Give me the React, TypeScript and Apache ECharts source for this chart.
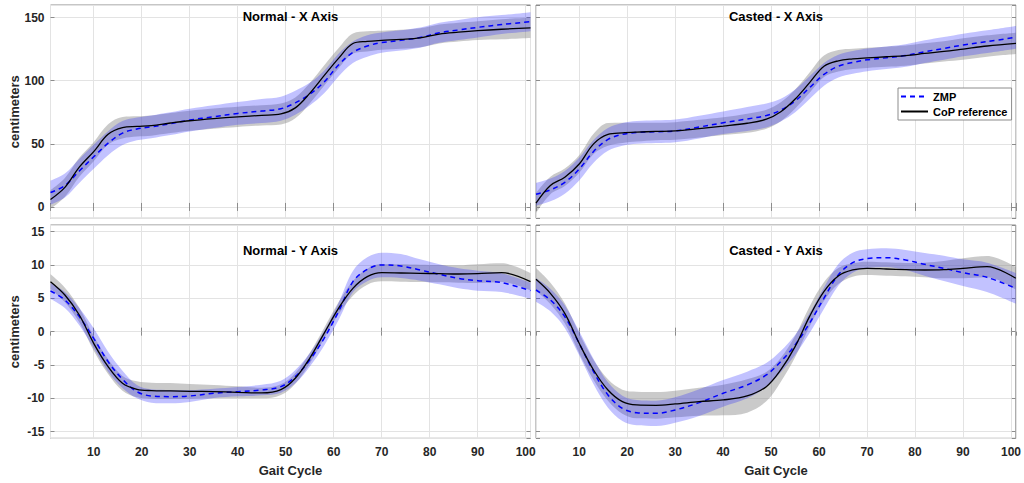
import React, { useEffect, useRef } from "react";
import * as echarts from "echarts";

// Gait cycle sample positions (%)
const X = [1, 4, 7, 10, 13, 16, 19, 22, 26, 30, 35, 40, 45, 49, 52, 55, 58, 61, 64, 67, 70, 74, 78, 82, 86, 90, 95, 101];

// Normal - X Axis
const NX_COP = [5.9, 15.5, 31.5, 43.8, 57.5, 62.8, 63.8, 64.5, 66.5, 68.3, 70, 71.4, 72.6, 73.7, 78.5, 90, 104, 117.7, 129.5, 131.2, 132, 132.8, 134, 137, 138.5, 139.7, 140.8, 141.8];
const NX_COP_SD = [7.5, 7.5, 7.5, 7.5, 8, 8.5, 8, 8, 8, 8, 8, 8, 8, 8.3, 8.3, 8, 8, 8, 8, 8, 7.5, 7.5, 7.5, 7.5, 7.5, 7.5, 8, 8];
const NX_ZMP = [11.4, 17, 28.5, 39.7, 50.5, 58.5, 61.8, 63.5, 66, 68.8, 71.5, 74.1, 76, 77.8, 82.5, 89.3, 99, 112.4, 122.5, 127.5, 130.2, 132, 134.2, 138, 140.2, 142.3, 144.5, 146.8];
const NX_ZMP_SD = [9.5, 9.5, 9.5, 9.5, 9.5, 9.5, 9, 9, 9, 9, 9, 9, 9.5, 9.5, 9.5, 9, 9, 9, 8.5, 8.5, 8, 8, 8, 8, 8, 8, 7.5, 7.5];

// Casted - X Axis
const CX_COP = [3, 17, 23.5, 34, 50, 57.5, 58.7, 59.3, 59.8, 60.2, 62, 64, 66.3, 69.5, 75.4, 85.5, 98.5, 111.5, 115.8, 117.3, 118.1, 119, 119.9, 121.6, 123.2, 125.1, 127.5, 129.6];
const CX_COP_SD = [8, 7, 7, 7, 8, 9, 8, 7.5, 7, 7, 7, 7, 7.5, 7.5, 7.5, 7.5, 8, 8.5, 8.5, 8, 8, 8, 8, 8, 8, 8.5, 8.5, 8.5];
const CX_ZMP = [10, 13.5, 19.5, 30, 44, 53.5, 57.5, 59, 59.6, 60.2, 63.3, 66.7, 69.7, 72.5, 76.7, 84, 94.5, 105, 111.5, 114.5, 116.6, 118.2, 120, 123, 125.6, 128.3, 131, 134.4];
const CX_ZMP_SD = [9, 9, 9, 9, 9, 9, 9, 9, 9, 9, 9, 9, 9.5, 9.5, 9, 9, 9, 9, 9, 9, 9, 9, 9, 9, 9, 9, 9, 9];

// Normal - Y Axis
const NY_COP = [7.5, 5.5, 2.5, -1.75, -5.25, -7.75, -8.65, -8.85, -8.9, -8.95, -9, -9.1, -9.2, -8.7, -7, -4, -0.25, 3.5, 6.5, 8.25, 8.85, 8.8, 8.75, 8.7, 8.65, 8.7, 8.85, 7.5];
const NY_COP_SD = [1.1, 1.1, 1.1, 1.1, 1.1, 1.1, 1.2, 1.2, 1.2, 1.1, 1, 0.9, 0.8, 0.8, 0.8, 0.8, 0.8, 0.9, 1.1, 1.2, 1.3, 1.3, 1.3, 1.3, 1.3, 1.4, 1.4, 1.3];
const NY_ZMP = [6.1, 4.75, 2.25, -1, -4.5, -7.15, -9, -9.65, -9.75, -9.65, -9.25, -9, -8.75, -8.25, -6.75, -4.25, -1, 3, 7.5, 9.35, 10, 9.85, 9.25, 8.6, 8, 7.65, 7.35, 6.15];
const NY_ZMP_SD = [1.2, 1.2, 1.3, 1.5, 1.5, 1.3, 1, 1, 1, 0.9, 0.7, 0.7, 0.8, 0.9, 1, 1, 1.1, 1.3, 1.6, 1.8, 1.85, 1.8, 1.6, 1.5, 1.5, 1.5, 1.4, 1.2];

// Casted - Y Axis
const CY_COP = [7.85, 5.75, 2.75, -1.75, -5.75, -8.75, -10.5, -11, -11.05, -10.85, -10.5, -10.25, -9.65, -8.25, -5.75, -2.25, 2.25, 6, 8.35, 9.25, 9.5, 9.4, 9.3, 9.25, 9.3, 9.5, 9.75, 8];
const CY_COP_SD = [1.7, 1.6, 1.5, 1.5, 1.5, 1.6, 1.8, 2, 2, 2, 2.1, 2.3, 2.5, 2.2, 1.8, 1.6, 1.5, 1.4, 1.2, 1, 1, 1, 1, 1.1, 1.3, 1.5, 1.6, 1.7];
const CY_ZMP = [6.25, 4.75, 2.25, -1.75, -6, -9.5, -11.5, -12.15, -12.25, -11.75, -10.65, -9.25, -8, -6.5, -4.5, -2, 1.25, 5, 8.5, 10.35, 10.95, 11.1, 10.75, 10.1, 9.5, 8.85, 8.15, 6.5];
const CY_ZMP_SD = [1.75, 1.7, 1.7, 1.8, 1.9, 1.9, 1.9, 1.9, 1.9, 1.9, 2, 2, 2, 1.8, 1.6, 1.5, 1.5, 1.6, 1.6, 1.5, 1.4, 1.4, 1.5, 1.7, 1.9, 2, 2.2, 2.3];

const TITLES = ["Normal - X Axis", "Casted - X Axis", "Normal - Y Axis", "Casted - Y Axis"];
const Y_NAME = "centimeters";
const X_NAME = "Gait Cycle";
const LEGEND = ["ZMP", "CoP reference"];

const FONT = "'Liberation Sans', Arial, Helvetica, sans-serif";
const FRAME = "#8c8c8c";
const TEXT = "#262626";
const SMOOTH = 0.35;

export default function App() {
  const ref = useRef<HTMLDivElement>(null);

  useEffect(() => {
    const chart = echarts.init(ref.current!, null, { renderer: "svg" });

    const panels = [
      { cop: NX_COP, copSd: NX_COP_SD, zmp: NX_ZMP, zmpSd: NX_ZMP_SD, row: 0, col: 0 },
      { cop: CX_COP, copSd: CX_COP_SD, zmp: CX_ZMP, zmpSd: CX_ZMP_SD, row: 0, col: 1 },
      { cop: NY_COP, copSd: NY_COP_SD, zmp: NY_ZMP, zmpSd: NY_ZMP_SD, row: 1, col: 0 },
      { cop: CY_COP, copSd: CY_COP_SD, zmp: CY_ZMP, zmpSd: CY_ZMP_SD, row: 1, col: 1 },
    ];

    const GL = [50.5, 536];
    const GT = [5, 225];
    const GW = 480;
    const GH = 213.3;

    const grids: any[] = [];
    const xAxes: any[] = [];
    const yAxes: any[] = [];
    const series: any[] = [];
    const graphics: any[] = [];

    panels.forEach((p, i) => {
      grids.push({
        left: GL[p.col],
        top: GT[p.row],
        width: GW,
        height: GH,
        show: true,
        borderColor: FRAME,
        borderWidth: 1,
        backgroundColor: "#fff",
        containLabel: false,
      });
      const yMin = p.row === 0 ? -9 : -16;
      const yMax = p.row === 0 ? 160 : 16;
      const ySplit = p.row === 0 ? 3 : 6;
      const tick = { show: true, inside: true, length: 4, lineStyle: { color: FRAME, width: 1 } };
      const label = {
        fontFamily: FONT,
        fontWeight: "bold",
        fontSize: 12,
        color: TEXT,
        showMinLabel: false,
        showMaxLabel: false,
      };
      xAxes.push({
        gridIndex: i,
        type: "value",
        min: 1,
        max: 101,
        splitNumber: 10,
        position: "bottom",
        axisLine: { show: false },
        axisTick: tick,
        axisLabel: { ...label, show: p.row === 1, margin: 8 },
        splitLine: { show: true, lineStyle: { color: "#e3e3e3", width: 1 } },
      });
      xAxes.push({
        gridIndex: i,
        type: "value",
        min: 1,
        max: 101,
        splitNumber: 10,
        position: "top",
        axisLine: { show: false },
        axisTick: tick,
        axisLabel: { show: false },
        splitLine: { show: false },
      });
      yAxes.push({
        gridIndex: i,
        type: "value",
        min: yMin,
        max: yMax,
        splitNumber: ySplit,
        position: "left",
        axisLine: { show: false },
        axisTick: tick,
        axisLabel: { ...label, show: p.col === 0, margin: 6 },
        splitLine: { show: true, lineStyle: { color: "#e3e3e3", width: 1 } },
      });
      yAxes.push({
        gridIndex: i,
        type: "value",
        min: yMin,
        max: yMax,
        splitNumber: ySplit,
        position: "right",
        axisLine: { show: false },
        axisTick: tick,
        axisLabel: { show: false },
        splitLine: { show: false },
      });

      const xi = 2 * i;
      const yi = 2 * i;
      // value first, x second, so that stacking acts on the y dimension
      const band = (mean: number[], sd: number[], color: string, id: string) => {
        series.push({
          name: id + "_lo",
          type: "line",
          xAxisIndex: xi,
          yAxisIndex: yi,
          dimensions: ["v", "g"],
          encode: { x: 1, y: 0 },
          data: X.map((x, k) => [mean[k] - sd[k], x]),
          stack: id,
          stackStrategy: "all",
          symbol: "none",
          smooth: SMOOTH,
          lineStyle: { opacity: 0, width: 0 },
          silent: true,
          z: 1,
        });
        series.push({
          name: id + "_band",
          type: "line",
          xAxisIndex: xi,
          yAxisIndex: yi,
          dimensions: ["v", "g"],
          encode: { x: 1, y: 0 },
          data: X.map((x, k) => [2 * sd[k], x]),
          stack: id,
          stackStrategy: "all",
          symbol: "none",
          smooth: SMOOTH,
          lineStyle: { opacity: 0, width: 0 },
          areaStyle: { color, opacity: 1 },
          silent: true,
          z: 1,
        });
      };
      band(p.cop, p.copSd, "rgba(128,128,128,0.42)", "cop" + i);
      band(p.zmp, p.zmpSd, "rgba(30,30,255,0.27)", "zmp" + i);

      series.push({
        name: LEGEND[0],
        type: "line",
        xAxisIndex: xi,
        yAxisIndex: yi,
        data: X.map((x, k) => [x, p.zmp[k]]),
        symbol: "none",
        smooth: SMOOTH,
        lineStyle: { color: "#0000ff", width: 1.5, type: [5, 4] },
        itemStyle: { color: "#0000ff" },
        z: 3,
      });
      series.push({
        name: LEGEND[1],
        type: "line",
        xAxisIndex: xi,
        yAxisIndex: yi,
        data: X.map((x, k) => [x, p.cop[k]]),
        symbol: "none",
        smooth: SMOOTH,
        lineStyle: { color: "#000000", width: 1.3 },
        itemStyle: { color: "#000000" },
        z: 4,
      });

      const cx = GL[p.col] + GW / 2;
      graphics.push({
        type: "text",
        x: cx,
        y: p.row === 0 ? 16 : 250,
        z: 10,
        style: {
          text: TITLES[i],
          font: `bold 13px ${FONT}`,
          fill: "#000",
          textAlign: "center",
          textVerticalAlign: "middle",
        },
      });
      if (p.col === 0) {
        graphics.push({
          type: "text",
          x: 14,
          y: GT[p.row] + GH / 2,
          rotation: Math.PI / 2,
          z: 10,
          style: {
            text: Y_NAME,
            font: `bold 13px ${FONT}`,
            fill: TEXT,
            textAlign: "center",
            textVerticalAlign: "middle",
          },
        });
      }
      if (p.row === 1) {
        graphics.push({
          type: "text",
          x: cx,
          y: 470,
          z: 10,
          style: {
            text: X_NAME,
            font: `bold 13px ${FONT}`,
            fill: TEXT,
            textAlign: "center",
            textVerticalAlign: "middle",
          },
        });
      }
    });

    chart.setOption({
      animation: false,
      backgroundColor: "#ffffff",
      grid: grids,
      xAxis: xAxes,
      yAxis: yAxes,
      series,
      legend: {
        data: LEGEND,
        orient: "vertical",
        left: 898,
        top: 88,
        itemWidth: 27,
        itemHeight: 12,
        itemGap: 4,
        padding: [3, 4, 3, 2],
        borderColor: FRAME,
        borderWidth: 1,
        backgroundColor: "#ffffff",
        selectedMode: false,
        itemStyle: { opacity: 0, color: "transparent", borderWidth: 0 },
        textStyle: { fontFamily: FONT, fontWeight: "bold", fontSize: 11, color: "#000" },
        z: 20,
      },
      graphic: graphics,
    });

    return () => chart.dispose();
  }, []);

  return <div ref={ref} style={{ position: "absolute", left: 0, top: 0, width: 1024, height: 483 }} />;
}
